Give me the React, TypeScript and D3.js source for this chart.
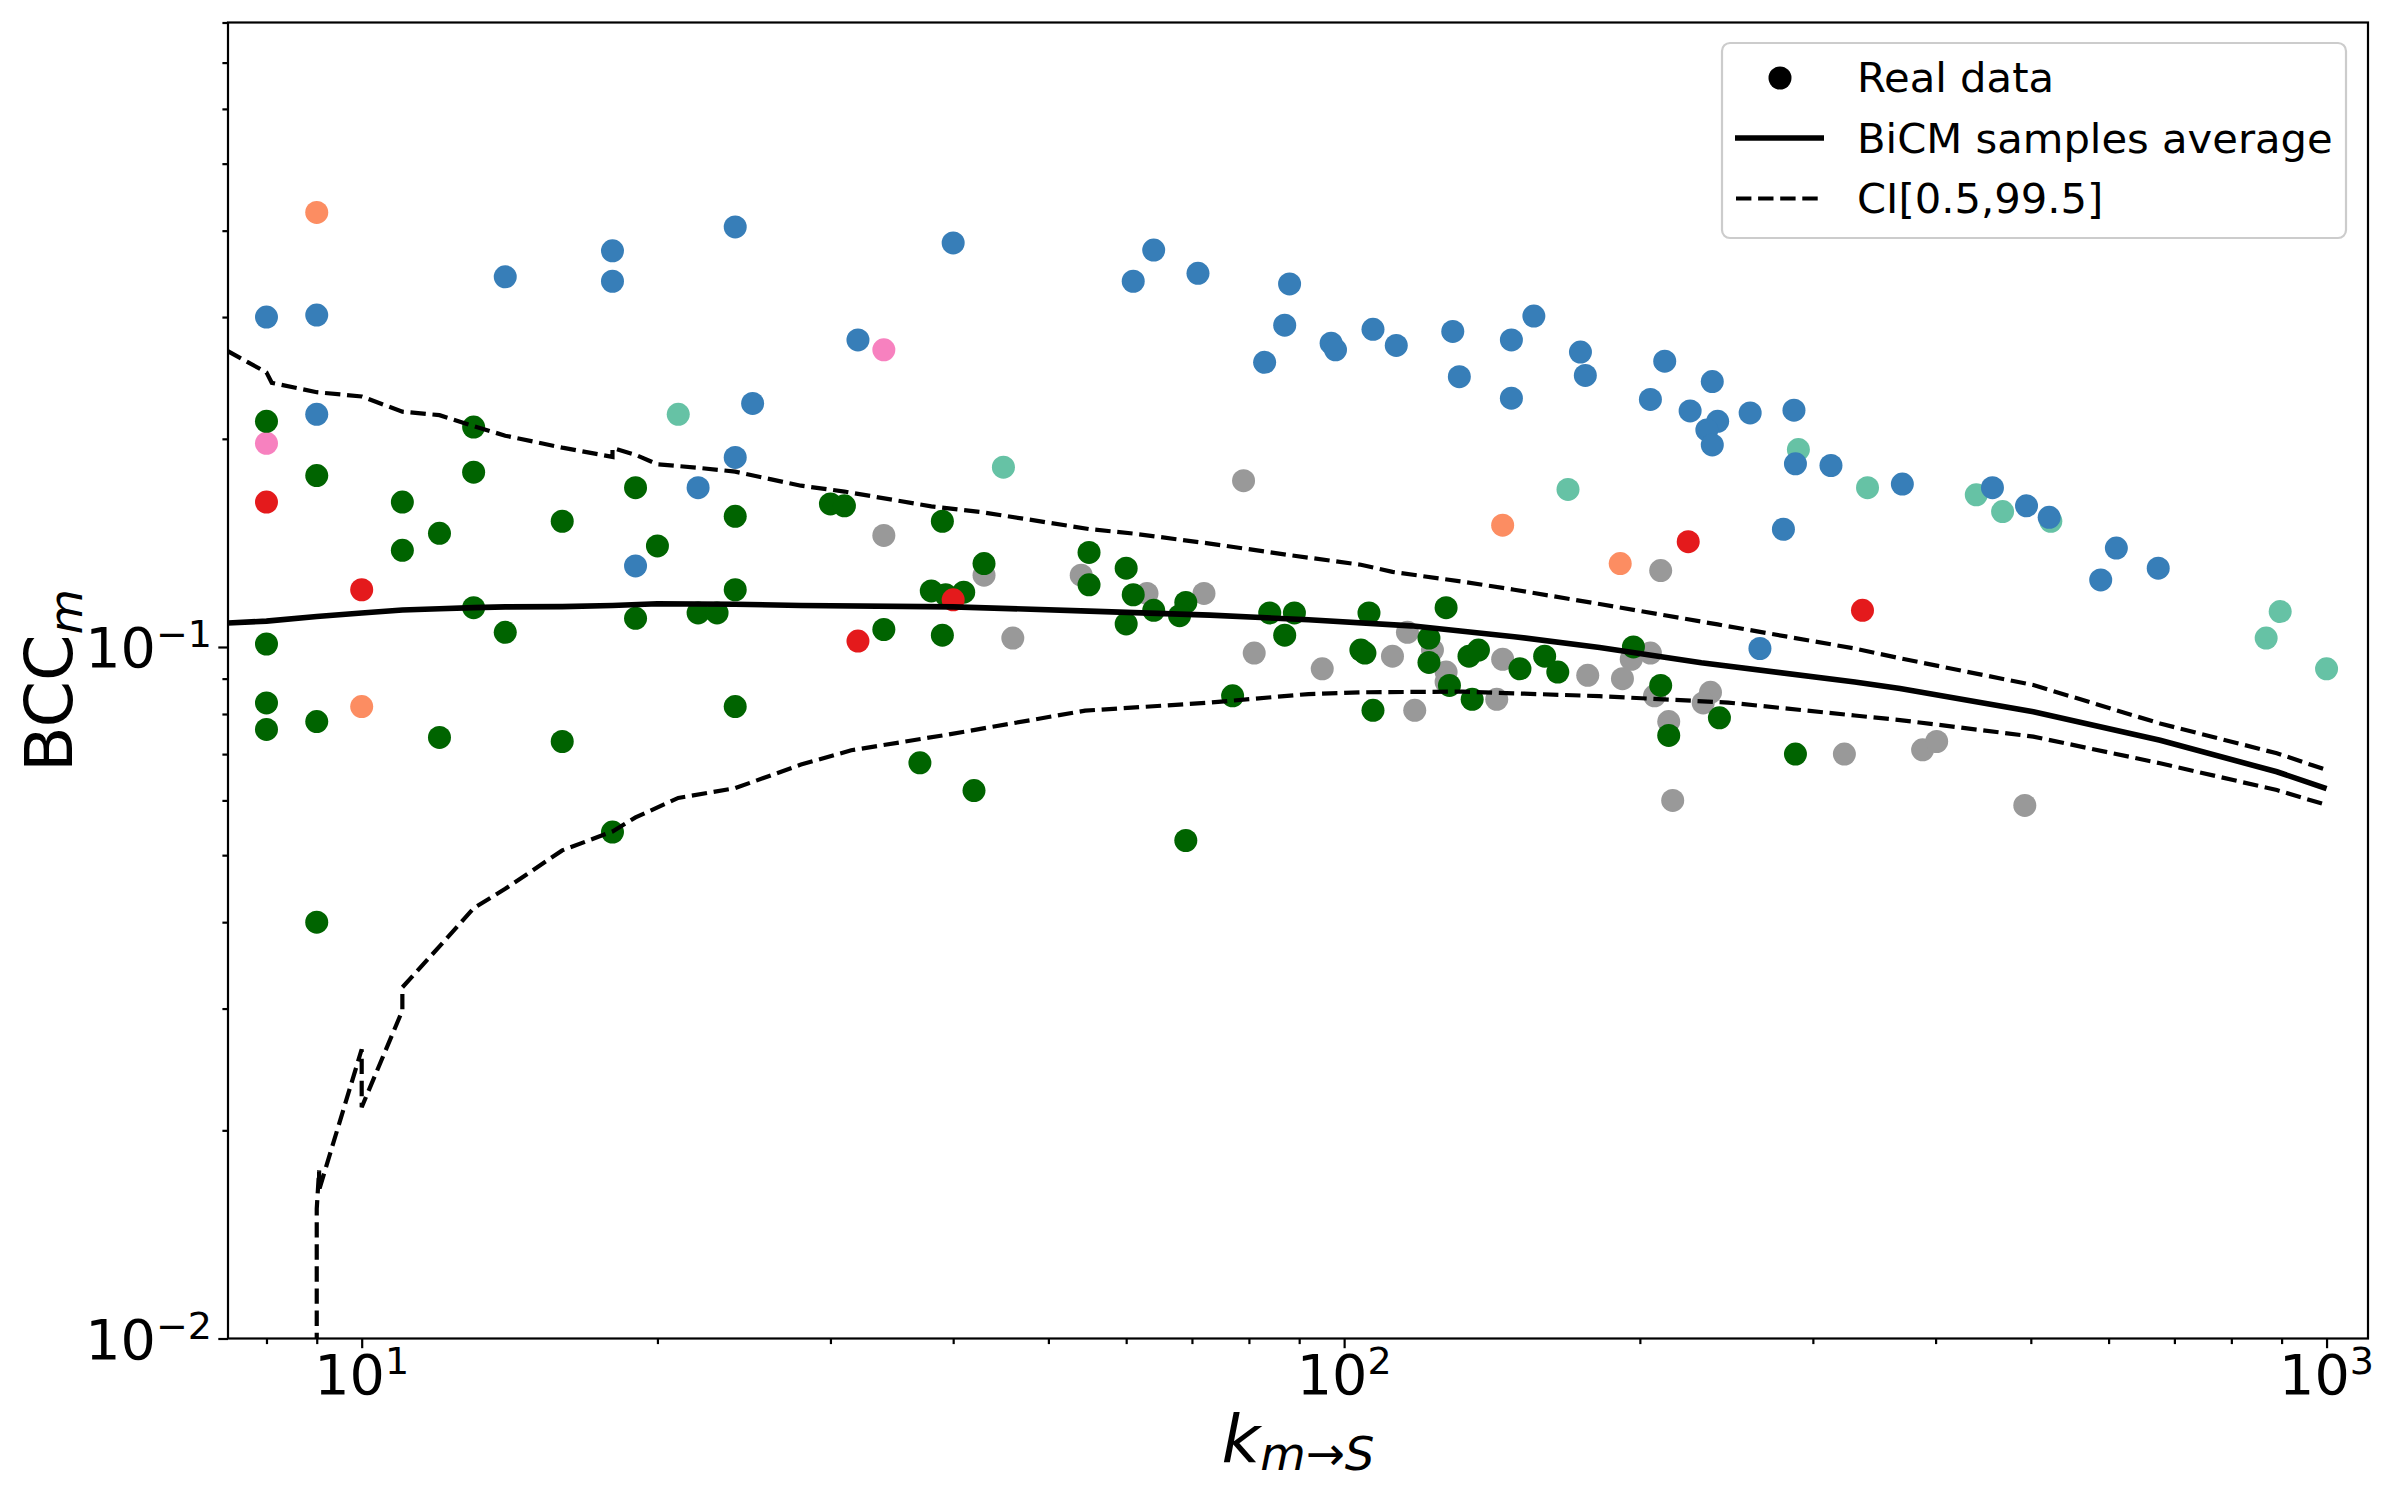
import * as d3 from "d3";
import { useEffect, useRef } from "react";

type Pt = [number, number];

const W = 2400;
const H = 1500;
const plot = { left: 228, right: 2368, top: 22.5, bottom: 1338.5 };

const xDomain: [number, number] = [7.31, 1102];
const yDomain: [number, number] = [0.01, 0.8];

const xMajor = [10, 100, 1000];
const xMinor = [8, 9, 20, 30, 40, 50, 60, 70, 80, 90, 200, 300, 400, 500, 600, 700, 800, 900];
const yMajor = [0.01, 0.1];
const yMinor = [0.02, 0.03, 0.04, 0.05, 0.06, 0.07, 0.08, 0.09, 0.2, 0.3, 0.4, 0.5, 0.6, 0.7, 0.8];

// scatter groups (k, BCC)
const grayPts: Pt[] = [
  [34, 0.145], [43, 0.127], [54, 0.127], [63, 0.1195], [72, 0.1195], [79, 0.174], [46, 0.103],
  [116, 0.105], [81, 0.098], [95, 0.093], [112, 0.097], [123, 0.099], [127, 0.092], [127, 0.089],
  [145, 0.096], [177, 0.091], [118, 0.081], [143, 0.084], [210, 0.129], [196, 0.096], [205, 0.098],
  [192, 0.09], [207, 0.085], [236, 0.086], [232, 0.083], [214, 0.078], [323, 0.07], [388, 0.071],
  [401, 0.073], [216, 0.06], [493, 0.059],
];
const tealPts: Pt[] = [
  [21, 0.217], [45, 0.182], [169, 0.169], [290, 0.193], [341, 0.17], [440, 0.166], [468, 0.157],
  [524, 0.152], [897, 0.1125], [868, 0.103], [1000, 0.093],
];
const bluePts: Pt[] = [
  [8, 0.3], [9, 0.302], [14, 0.343], [18, 0.374], [18, 0.338], [24, 0.405], [9, 0.217], [25, 0.225],
  [24, 0.188], [22, 0.17], [19, 0.131], [32, 0.278], [40, 0.384], [61, 0.338], [64, 0.375],
  [71, 0.347], [88, 0.335], [87, 0.292], [83, 0.258], [97, 0.275], [98, 0.269], [107, 0.288],
  [113, 0.273], [129, 0.286], [131, 0.246], [148, 0.278], [148, 0.229], [156, 0.301], [174, 0.267],
  [176, 0.247], [212, 0.259], [205, 0.228], [237, 0.242], [225, 0.2195], [240, 0.212], [234, 0.206],
  [237, 0.196], [259, 0.218], [287, 0.22], [288, 0.184], [313, 0.183], [370, 0.172], [457, 0.17],
  [495, 0.16], [522, 0.154], [611, 0.139], [589, 0.125], [674, 0.13], [280, 0.148], [265, 0.0995],
];
const orangePts: Pt[] = [[9, 0.425], [10, 0.082], [145, 0.15], [191, 0.132]];
const pinkPts: Pt[] = [[8, 0.197], [34, 0.269]];
const greenPts: Pt[] = [
  [8, 0.212], [13, 0.208], [9, 0.177], [13, 0.179], [11, 0.162], [19, 0.17], [16, 0.152],
  [24, 0.1545], [12, 0.146], [11, 0.138], [20, 0.14], [24, 0.121], [13, 0.114], [19, 0.11],
  [22, 0.112], [23, 0.112], [14, 0.105], [8, 0.101], [8, 0.083], [8, 0.076], [9, 0.078], [24, 0.082],
  [12, 0.074], [16, 0.073], [9, 0.04], [18, 0.054], [30, 0.161], [31, 0.16], [39, 0.152], [55, 0.137],
  [43, 0.132], [60, 0.13], [55, 0.123], [38, 0.1205], [39.3, 0.119], [41, 0.12], [61, 0.119],
  [69, 0.116], [64, 0.113], [68, 0.111], [84, 0.112], [89, 0.112], [106, 0.112], [127, 0.114],
  [34, 0.106], [39, 0.104], [60, 0.108], [87, 0.104], [122, 0.103], [104, 0.099], [105, 0.098],
  [122, 0.095], [128, 0.088], [134, 0.097], [137, 0.099], [151, 0.093], [160, 0.097], [165, 0.092],
  [77, 0.085], [107, 0.081], [135, 0.084], [37, 0.068], [42, 0.062], [69, 0.0525], [197, 0.1],
  [210, 0.088], [241, 0.079], [214, 0.0745], [288, 0.07],
];
const redPts: Pt[] = [[8, 0.162], [10, 0.121], [32, 0.102], [40, 0.117], [224, 0.142], [337, 0.113]];

const groups: { pts: Pt[]; color: string }[] = [
  { pts: grayPts, color: "#999999" },
  { pts: tealPts, color: "#66c2a5" },
  { pts: bluePts, color: "#377eb8" },
  { pts: orangePts, color: "#fc8d62" },
  { pts: pinkPts, color: "#f781bf" },
  { pts: greenPts, color: "#006400" },
  { pts: redPts, color: "#e41a1c" },
];

// BiCM average and CI bounds
const meanLine: Pt[] = [
  [7.3, 0.1083], [8, 0.109], [9, 0.1107], [10, 0.112], [11, 0.1131], [12, 0.1136], [13, 0.114],
  [14, 0.1143], [16, 0.1144], [18, 0.1148], [20, 0.1155], [24, 0.1153], [28, 0.1148], [40, 0.1143],
  [55, 0.1127], [73, 0.1112], [92, 0.1095], [117, 0.1073], [149, 0.1035], [182, 0.0998],
  [231, 0.0949], [331, 0.089], [368, 0.0871], [503, 0.0806], [677, 0.0733], [890, 0.066],
  [1000, 0.0624],
];
const upperCI: Pt[] = [
  [7.3, 0.268], [8, 0.2495], [8.1, 0.241], [9, 0.2336], [10, 0.2303], [11, 0.2189], [12, 0.2164],
  [13, 0.2087], [14, 0.2021], [16, 0.1942], [18, 0.1883], [18, 0.194], [19, 0.1896], [20, 0.1838],
  [22, 0.1816], [24, 0.1793], [28, 0.1711], [31, 0.1678], [38, 0.1597], [43, 0.1565], [55, 0.1481],
  [61, 0.1459], [73, 0.1411], [88, 0.1358], [104, 0.1315], [112, 0.1284], [132, 0.1243],
  [149, 0.121], [182, 0.1154], [240, 0.1078], [331, 0.0995], [368, 0.0963], [503, 0.0881],
  [677, 0.0775], [890, 0.0702], [1000, 0.0664],
];
const lowerCI: Pt[] = [
  [9, 0.009], [9, 0.0154], [9.05, 0.0175], [9.05, 0.0164], [10, 0.0262], [10, 0.0216], [11, 0.0298],
  [11, 0.0322], [12, 0.0369], [13, 0.0419], [14, 0.0447], [16, 0.0508], [18, 0.0541], [19, 0.0567],
  [21, 0.0605], [24, 0.0625], [28, 0.0676], [31.5, 0.0709], [39.5, 0.0747], [54.5, 0.0809],
  [73, 0.0831], [92, 0.0855], [104, 0.086], [132, 0.0862], [182, 0.0849], [246, 0.0831],
  [331, 0.0796], [368, 0.0784], [503, 0.0742], [677, 0.0679], [890, 0.0621], [1000, 0.0591],
];

const font = "DejaVu Sans";

const supText = (
  sel: d3.Selection<SVGTextElement, unknown, null, undefined>,
  exp: string
) => {
  sel.append("tspan").text("10");
  sel.append("tspan").attr("dy", -20).attr("font-size", 38).text(exp);
};

const App = () => {
  const svgRef = useRef<SVGSVGElement | null>(null);

  useEffect(() => {
    const svg = d3.select(svgRef.current);
    svg.selectAll("*").remove();

    const x = d3.scaleLog().domain(xDomain).range([plot.left, plot.right]);
    const y = d3.scaleLog().domain(yDomain).range([plot.bottom, plot.top]);

    svg
      .append("defs")
      .append("clipPath")
      .attr("id", "plotclip")
      .append("rect")
      .attr("x", plot.left)
      .attr("y", plot.top)
      .attr("width", plot.right - plot.left)
      .attr("height", plot.bottom - plot.top);

    const body = svg.append("g").attr("clip-path", "url(#plotclip)");

    // points
    groups.forEach((g) => {
      body
        .append("g")
        .selectAll("circle")
        .data(g.pts)
        .join("circle")
        .attr("cx", (d) => x(d[0]))
        .attr("cy", (d) => y(d[1]))
        .attr("r", 11.5)
        .attr("fill", g.color);
    });

    const line = d3
      .line<Pt>()
      .x((d) => x(d[0]))
      .y((d) => y(d[1]));

    body
      .append("path")
      .datum(meanLine)
      .attr("fill", "none")
      .attr("stroke", "black")
      .attr("stroke-width", 5.6)
      .attr("d", line);

    [upperCI, lowerCI].forEach((l) => {
      body
        .append("path")
        .datum(l)
        .attr("fill", "none")
        .attr("stroke", "black")
        .attr("stroke-width", 4.2)
        .attr("stroke-dasharray", "15.4,6.7")
        .attr("d", line);
    });

    // axes
    const xAx = svg.append("g").attr("transform", `translate(0,${plot.bottom})`);
    xAx
      .append("g")
      .call(d3.axisBottom(x).tickValues(xMajor).tickSize(9.7).tickFormat(() => ""))
      .call((g) => g.select(".domain").remove());
    xAx
      .append("g")
      .call(d3.axisBottom(x).tickValues(xMinor).tickSize(5.6).tickFormat(() => ""))
      .call((g) => g.select(".domain").remove());

    const yAx = svg.append("g").attr("transform", `translate(${plot.left},0)`);
    yAx
      .append("g")
      .call(d3.axisLeft(y).tickValues(yMajor).tickSize(9.7).tickFormat(() => ""))
      .call((g) => g.select(".domain").remove());
    yAx
      .append("g")
      .call(d3.axisLeft(y).tickValues(yMinor).tickSize(5.6).tickFormat(() => ""))
      .call((g) => g.select(".domain").remove());

    svg.selectAll(".tick line").attr("stroke", "black").attr("stroke-width", 2.2);

    xMajor.forEach((v) => {
      const t = svg
        .append("text")
        .attr("x", x(v))
        .attr("y", 1393.5)
        .attr("text-anchor", "middle")
        .attr("font-family", font)
        .attr("font-size", 55.6);
      supText(t, String(Math.round(Math.log10(v))));
    });

    yMajor.forEach((v) => {
      const t = svg
        .append("text")
        .attr("x", 212)
        .attr("y", y(v) + 20)
        .attr("text-anchor", "end")
        .attr("font-family", font)
        .attr("font-size", 55.6);
      supText(t, "\u2212" + String(Math.round(-Math.log10(v))));
    });

    svg
      .append("rect")
      .attr("x", plot.left)
      .attr("y", plot.top)
      .attr("width", plot.right - plot.left)
      .attr("height", plot.bottom - plot.top)
      .attr("fill", "none")
      .attr("stroke", "black")
      .attr("stroke-width", 2.2);

    // axis labels
    const xl = svg
      .append("text")
      .attr("x", (plot.left + plot.right) / 2)
      .attr("y", 1462)
      .attr("text-anchor", "middle")
      .attr("font-family", font)
      .attr("font-size", 66.7);
    xl.append("tspan").attr("font-style", "italic").text("k");
    const sub = xl.append("tspan").attr("dy", 8).attr("font-size", 46.7);
    sub.append("tspan").attr("font-style", "italic").text("m");
    sub.append("tspan").text("\u2192");
    sub.append("tspan").attr("font-style", "italic").text("S");

    const yl = svg
      .append("text")
      .attr("transform", `translate(71.7,${(plot.top + plot.bottom) / 2}) rotate(-90)`)
      .attr("text-anchor", "middle")
      .attr("font-family", font)
      .attr("font-size", 66.7);
    yl.append("tspan").text("BCC");
    yl.append("tspan").attr("dy", 10).attr("font-size", 46.7).attr("font-style", "italic").text("m");

    // legend
    const lg = svg.append("g");
    lg.append("rect")
      .attr("x", 1722)
      .attr("y", 43)
      .attr("width", 624)
      .attr("height", 195)
      .attr("rx", 8)
      .attr("fill", "white")
      .attr("fill-opacity", 0.8)
      .attr("stroke", "#cccccc")
      .attr("stroke-width", 2.2);
    lg.append("circle").attr("cx", 1780).attr("cy", 78).attr("r", 11.5).attr("fill", "black");
    lg.append("line")
      .attr("x1", 1735).attr("x2", 1824).attr("y1", 138).attr("y2", 138)
      .attr("stroke", "black").attr("stroke-width", 5.6);
    lg.append("line")
      .attr("x1", 1736).attr("x2", 1820).attr("y1", 198.5).attr("y2", 198.5)
      .attr("stroke", "black").attr("stroke-width", 4.2).attr("stroke-dasharray", "15.4,6.7");
    const labels = ["Real data", "BiCM samples average", "CI[0.5,99.5]"];
    const baselines = [92, 152.5, 213];
    labels.forEach((s, i) => {
      lg.append("text")
        .attr("x", 1857)
        .attr("y", baselines[i])
        .attr("font-family", font)
        .attr("font-size", 41.7)
        .text(s);
    });
  }, []);

  return (
    <svg
      ref={svgRef}
      width={W}
      height={H}
      style={{ position: "absolute", left: 0, top: 0, background: "white" }}
    />
  );
};

export default App;
